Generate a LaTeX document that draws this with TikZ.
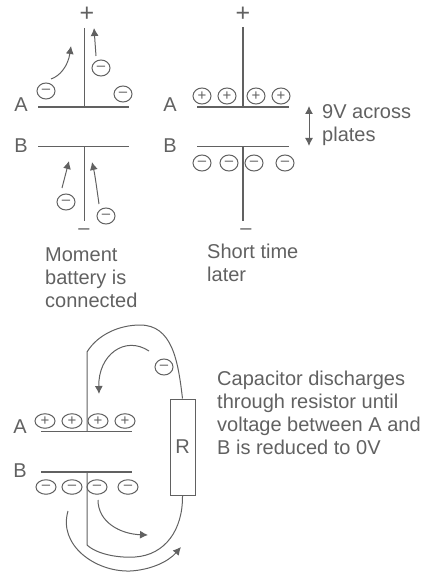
\documentclass[tikz,border=0pt]{standalone}
\usepackage{fontspec}
\setmainfont{Liberation Sans}
\usetikzlibrary{shapes.geometric,arrows.meta}
\tikzset{>={Latex[length=8pt,width=8pt]}}
\definecolor{inkgray}{gray}{0.38}
\tikzset{
    wire/.style={inkgray, line width=1.2pt},
    thinwire/.style={inkgray, line width=1pt},
    flow/.style={inkgray, line width=1pt, ->},
    lettering/.style={inkgray, inner sep=0pt, font=\fontsize{20}{23}\selectfont},
    bigsign/.style={lettering, font=\fontsize{25}{25}\selectfont},
    note/.style={lettering, align=left, anchor=west},
    charge/.style={draw=inkgray, line width=1pt, ellipse, inner sep=0pt, minimum width=18pt, minimum height=16pt, text=inkgray, font=\fontsize{15}{15}\selectfont},
    flat/.style={charge, minimum width=20pt, minimum height=14.5pt}
}
\begin{document}
\begin{tikzpicture}[x=1pt,y=-1pt]
    \useasboundingbox (0,0) rectangle (424,572);

    % moment battery is connected
    \draw[wire] (84.5,28) -- (84.5,107);
    \draw[wire] (38,107) -- (129,107);
    \draw[wire] (38,146.5) -- (129,146.5);
    \draw[wire] (84.5,146.5) -- (84.5,221);
    \node[bigsign] (plus1) at (87,14) {+};
    \node[lettering] (minus1) at (84,232) {--};
    \node[lettering] (a1) at (21,105) {A};
    \node[lettering] (b1) at (21,146) {B};
    \node[charge] (e1) at (46,91) {--};
    \node[charge] (e2) at (101,68) {--};
    \node[charge] (e3) at (123,94) {--};
    \node[charge] (e4) at (66,202) {--};
    \node[charge] (e5) at (106,216) {--};
    \coordinate (t1) at (71,46);
    \coordinate (t2) at (94,28);
    \coordinate (t4) at (69,161);
    \coordinate (t5) at (92,162);
    \draw[flow] (51,79) .. controls (60,76) and (68,66) .. (t1);
    \draw[flow] (96,56) -- (t2);
    \draw[flow] (62,188) -- (t4);
    \draw[flow] (99,204) .. controls (97,190) and (95,175) .. (t5);
    \node[note] (moment) at (45,278) {Moment\\battery is\\connected};

    % short time later
    \draw[wire] (243,27) -- (243,107);
    \draw[wire] (197,107) -- (289,107);
    \draw[wire] (197,146.5) -- (289,146.5);
    \draw[wire] (243,146.5) -- (243,221);
    \node[bigsign] (plus2) at (243,14) {+};
    \node[lettering] (minus2) at (246,232) {--};
    \node[lettering] (a2) at (170,105) {A};
    \node[lettering] (b2) at (170,146) {B};
    \node[charge] (p1) at (202,96) {+};
    \node[charge] (p2) at (227,96) {+};
    \node[charge] (p3) at (256,96) {+};
    \node[charge] (p4) at (281,96) {+};
    \node[charge] (n1) at (202,163) {--};
    \node[charge] (n2) at (229,163) {--};
    \node[charge] (n3) at (254,163) {--};
    \node[charge] (n4) at (285,163) {--};
    \coordinate (gapa) at (309,106);
    \coordinate (gapb) at (309,146);
    \draw[flow, <->] (gapa) -- (gapb);
    \node[note] (across) at (322,125) {9V across\\plates};
    \node[note] (later) at (207,263) {Short time\\later};

    % discharge through the resistor
    \node[draw=inkgray, line width=1pt, minimum width=25pt, minimum height=96pt, lettering] (R) at (182.5,447) {R};
    \draw[thinwire] (87,431.5) -- (87,352) .. controls (98,334) and (120,325) .. (140,325) .. controls (172,325) and (178,360) .. (R.north);
    \draw[wire] (41,431.5) -- (132,431.5);
    \draw[wire] (41,472) -- (132,472);
    \draw[thinwire] (87,472) -- (87,545) .. controls (98,555) and (120,558) .. (135,557) .. controls (165,555) and (183,530) .. (R.south);
    \node[lettering] (a3) at (20,427) {A};
    \node[lettering] (b3) at (20,471) {B};
    \node[charge] (e6) at (164,367) {--};
    \node[flat] (q1) at (45,421) {+};
    \node[flat] (q2) at (72,421) {+};
    \node[flat] (q3) at (98,421) {+};
    \node[flat] (q4) at (125,421) {+};
    \node[flat] (m1) at (46,487) {--};
    \node[flat] (m2) at (72,487) {--};
    \node[flat] (m3) at (97,487) {--};
    \node[flat] (m4) at (128,487) {--};
    \coordinate (t6) at (99,394);
    \coordinate (t7) at (148,535);
    \coordinate (t8) at (181,547);
    \draw[flow] (149,351) .. controls (125,335) and (98,355) .. (t6);
    \draw[flow] (98,500) .. controls (98,522) and (120,534) .. (t7);
    \draw[flow] (68,511) .. controls (58,545) and (95,572) .. (130,571) .. controls (150,570) and (168,562) .. (t8);
    \node[note] (discharge) at (217,413) {Capacitor discharges\\through resistor until\\voltage between A and\\B is reduced to 0V};
\end{tikzpicture}
\end{document}
